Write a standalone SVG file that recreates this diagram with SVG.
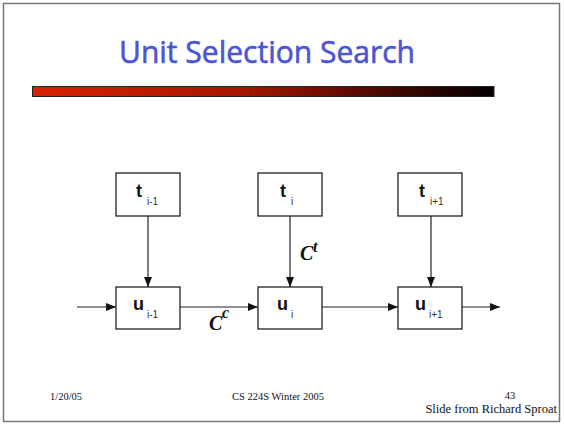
<svg xmlns="http://www.w3.org/2000/svg" width="564" height="424" viewBox="0 0 564 424">
  <defs>
    <linearGradient id="barGrad" x1="0" y1="0" x2="1" y2="0">
      <stop offset="0" stop-color="#d82200"/>
      <stop offset="0.45" stop-color="#a81500"/>
      <stop offset="1" stop-color="#000000"/>
    </linearGradient>
    <marker id="arrow" viewBox="0 0 10 8" refX="10" refY="4" markerWidth="10" markerHeight="8" markerUnits="userSpaceOnUse" orient="auto">
      <path d="M0,0 L10,4 L0,8 Z" fill="#111"/>
    </marker>
    <style>
      .box { fill: #fff; stroke: #222; stroke-width: 1.3; }
      .edge { stroke: #222; stroke-width: 1.2; fill: none; marker-end: url(#arrow); }
      .lbl { font-family: "Liberation Sans", Arial, sans-serif; font-weight: bold; font-size: 18px; fill: #111; }
      .sub { font-family: "Liberation Sans", Arial, sans-serif; font-size: 10px; fill: #333; }
      .cost { font-family: "Liberation Serif", "Times New Roman", serif; font-style: italic; font-weight: bold; fill: #111; }
      .foot { font-family: "Liberation Serif", "Times New Roman", serif; fill: #111; }
    </style>
  </defs>

  <!-- slide frame -->
  <rect x="0" y="0" width="564" height="424" fill="#fff"/>
  <rect x="3.5" y="3.5" width="556" height="418" fill="none" stroke="#777" stroke-width="1.5"/>

  <!-- heading and rule -->
  <text x="267" y="63" text-anchor="middle" font-family="'Comic Sans MS', 'Open Sans', 'Noto Sans', sans-serif" font-size="31" fill="#4b55d6" stroke="#4b55d6" stroke-width="0.6" textLength="296" lengthAdjust="spacingAndGlyphs">Unit Selection Search</text>
  <rect x="32.5" y="86.5" width="461.5" height="10" fill="url(#barGrad)" stroke="#222" stroke-width="1"/>

  <!-- connectors -->
  <g id="connectors">
    <line class="edge" x1="148" y1="216" x2="148" y2="287"/>
    <line class="edge" x1="290" y1="216" x2="290" y2="287"/>
    <line class="edge" x1="431" y1="216" x2="431" y2="287"/>
    <line class="edge" x1="77" y1="307" x2="116" y2="307"/>
    <line class="edge" x1="180" y1="307" x2="258" y2="307"/>
    <line class="edge" x1="322" y1="307" x2="398" y2="307"/>
    <line class="edge" x1="462" y1="307" x2="500" y2="307"/>
    <g id="cost-c">
      <text class="cost" x="209" y="330" font-size="20">C</text>
      <text class="cost" x="222" y="318" font-size="16">c</text>
    </g>
    <g id="cost-t">
      <text class="cost" x="300" y="260" font-size="20">C</text>
      <text class="cost" x="313" y="252" font-size="16">t</text>
    </g>
  </g>

  <!-- target nodes -->
  <g id="t-prev">
    <rect class="box" x="116" y="173" width="64" height="43"/>
    <text class="lbl" x="136" y="197">t</text>
    <text class="sub" x="147" y="205">i-1</text>
  </g>
  <g id="t-cur">
    <rect class="box" x="258" y="173" width="64" height="43"/>
    <text class="lbl" x="280" y="197">t</text>
    <text class="sub" x="291" y="205">i</text>
  </g>
  <g id="t-next">
    <rect class="box" x="398" y="173" width="64" height="43"/>
    <text class="lbl" x="419" y="197">t</text>
    <text class="sub" x="430" y="205">i+1</text>
  </g>

  <!-- unit nodes -->
  <g id="u-prev">
    <rect class="box" x="116" y="287" width="64" height="42"/>
    <text class="lbl" x="133" y="310">u</text>
    <text class="sub" x="147" y="318">i-1</text>
  </g>
  <g id="u-cur">
    <rect class="box" x="258" y="287" width="64" height="42"/>
    <text class="lbl" x="277" y="310">u</text>
    <text class="sub" x="291" y="318">i</text>
  </g>
  <g id="u-next">
    <rect class="box" x="398" y="287" width="64" height="42"/>
    <text class="lbl" x="415" y="310">u</text>
    <text class="sub" x="429" y="318">i+1</text>
  </g>

  <!-- footer -->
  <text class="foot" x="50" y="400" font-size="10.5">1/20/05</text>
  <text class="foot" x="278" y="400" font-size="10.5" text-anchor="middle">CS 224S Winter 2005</text>
  <text class="foot" x="510" y="399" font-size="10.5" text-anchor="middle">43</text>
  <text class="foot" x="557" y="413" font-size="12.5" text-anchor="end">Slide from Richard Sproat</text>
</svg>
